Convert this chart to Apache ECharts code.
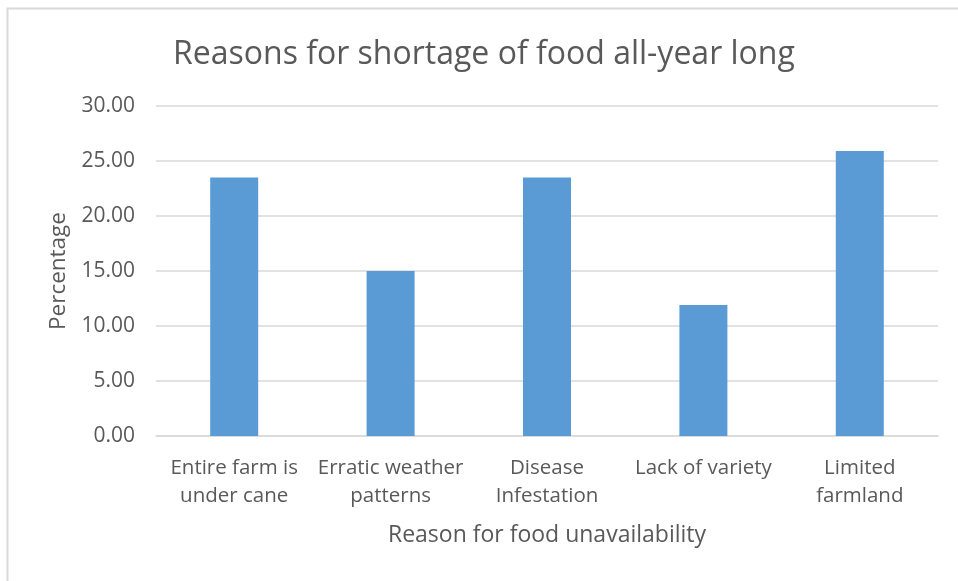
<!DOCTYPE html>
<html>
<head>
<meta charset="utf-8">
<script src="https://cdn.jsdelivr.net/npm/echarts@6/dist/echarts.min.js"></script>
<style>
html,body{margin:0;padding:0;background:#fff;}
#main{width:958px;height:581px;}
</style>
</head>
<body>
<div id="main"></div>
<script>
var chartTitle = 'Reasons for shortage of food all-year long';
var categories = ['Entire farm is\nunder cane', 'Erratic weather\npatterns', 'Disease\nInfestation', 'Lack of variety', 'Limited\nfarmland'];
var values = [23.5, 15.0, 23.5, 11.9, 25.9];
var xAxisName = 'Reason for food unavailability';
var yAxisName = 'Percentage';

var chart = echarts.init(document.getElementById('main'), null, {renderer: 'canvas'});
var font = 'Open Sans';
var txt = '#595959';
chart.setOption({
  animation: false,
  backgroundColor: '#fff',
  graphic: [{
    type: 'rect', left: 5, top: 6, z: 100,
    shape: {x: 0, y: 0, width: 1100, height: 1100},
    style: {fill: 'none', stroke: '#d9d9d9', lineWidth: 2}
  }],
  title: {
    text: chartTitle, left: 168, top: 34,
    textStyle: {fontFamily: font, fontSize: 32, fontWeight: 'normal', color: txt}
  },
  grid: {left: 156, right: 20, top: 106, bottom: 145, containLabel: false},
  xAxis: {
    type: 'category', data: categories,
    name: xAxisName, nameLocation: 'middle', nameGap: 88,
    nameTextStyle: {fontFamily: font, fontSize: 23, color: txt},
    axisLine: {lineStyle: {color: '#d9d9d9', width: 1.5}},
    axisTick: {show: false},
    axisLabel: {fontFamily: font, fontSize: 20.5, color: txt, margin: 18, lineHeight: 28, interval: 0}
  },
  yAxis: {
    type: 'value', min: 0, max: 30, interval: 5,
    name: yAxisName, nameLocation: 'middle', nameGap: 85,
    nameTextStyle: {fontFamily: font, fontSize: 22.5, color: txt},
    axisLine: {show: false}, axisTick: {show: false},
    splitLine: {lineStyle: {color: '#d9d9d9', width: 1.5}},
    axisLabel: {fontFamily: font, fontSize: 21, color: txt, margin: 21,
      formatter: function (v) { return v.toFixed(2); }}
  },
  series: [{
    type: 'bar', data: values, barWidth: 48,
    itemStyle: {color: '#5b9bd5'}
  }]
});
</script>
</body>
</html>
